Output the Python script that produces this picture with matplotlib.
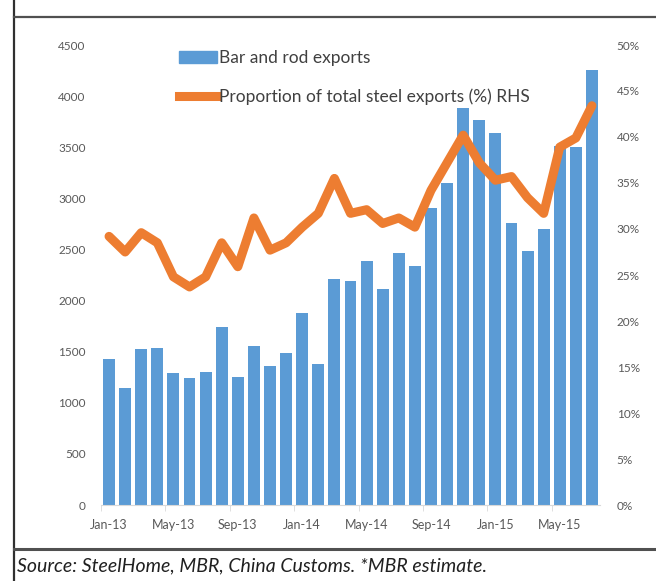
import matplotlib
matplotlib.use("Agg")
import matplotlib.pyplot as plt
from matplotlib import font_manager as fm
from matplotlib.lines import Line2D
from matplotlib.patches import Patch
import numpy as np

months = ["Jan-13", "Feb-13", "Mar-13", "Apr-13", "May-13", "Jun-13", "Jul-13", "Aug-13",
          "Sep-13", "Oct-13", "Nov-13", "Dec-13", "Jan-14", "Feb-14", "Mar-14", "Apr-14",
          "May-14", "Jun-14", "Jul-14", "Aug-14", "Sep-14", "Oct-14", "Nov-14", "Dec-14",
          "Jan-15", "Feb-15", "Mar-15", "Apr-15", "May-15", "Jun-15", "Jul-15"]
bar_rod_exports = [1425, 1140, 1530, 1540, 1290, 1240, 1300, 1745, 1250, 1560, 1360, 1485,
                   1880, 1375, 2210, 2195, 2390, 2115, 2465, 2340, 2905, 3150, 3880, 3770,
                   3635, 2760, 2480, 2700, 3515, 3500, 4260]
proportion_pct = [29.2, 27.5, 29.6, 28.5, 24.8, 23.7, 24.8, 28.5, 25.9, 31.2, 27.7, 28.5,
                  30.2, 31.7, 35.5, 31.7, 32.1, 30.6, 31.2, 30.2, 34.2, 37.2, 40.2, 37.2,
                  35.3, 35.7, 33.4, 31.7, 38.9, 39.9, 43.4]
left_ticks = [0, 500, 1000, 1500, 2000, 2500, 3000, 3500, 4000, 4500]
right_ticks = [0, 5, 10, 15, 20, 25, 30, 35, 40, 45, 50]
source_text = "Source: SteelHome, MBR, China Customs. *MBR estimate."

avail = {f.name for f in fm.fontManager.ttflist}
base_font = "Lato" if "Lato" in avail else "DejaVu Sans"
plt.rcParams["font.family"] = [base_font, "DejaVu Sans"]

W, H = 656, 581
fig = plt.figure(figsize=(W / 100, H / 100), dpi=100)
fig.patch.set_facecolor("white")

# plot area in pixels: x 101..600, y 45..505 (top-origin)
x0, x1, ytop, ybot = 101, 600, 45, 505
ax = fig.add_axes([x0 / W, 1 - ybot / H, (x1 - x0) / W, (ybot - ytop) / H])
ax2 = ax.twinx()

BLUE = "#5B9BD5"
ORANGE = "#ED7D31"
TXT = "#595959"

x = np.arange(len(months))
ax.bar(x, bar_rod_exports, width=0.74, color=BLUE, zorder=2)
ax.set_xlim(-0.5, len(months) - 0.5)
ax.set_ylim(0, 4500)
ax.set_yticks(left_ticks)
ax.set_yticklabels([str(v) for v in left_ticks])
ax2.plot(x, proportion_pct, color=ORANGE, lw=6.5, solid_joinstyle="round",
         solid_capstyle="round", zorder=3)
ax2.set_ylim(0, 50)
ax2.set_yticks(right_ticks)
ax2.set_yticklabels([f"{v}%" for v in right_ticks])

label_idx = list(range(0, len(months), 4))
ax.set_xticks(label_idx)
ax.set_xticklabels([months[i] for i in label_idx])
ax.set_xticks([i - 0.5 for i in label_idx], minor=True)

for a in (ax, ax2):
    for s in a.spines.values():
        s.set_visible(False)
ax.spines["bottom"].set_visible(True)
ax.spines["bottom"].set_color("#D9D9D9")
ax.tick_params(axis="y", length=0, labelsize=8.5, labelcolor=TXT, pad=11)
ax2.tick_params(axis="y", length=0, labelsize=8.5, labelcolor=TXT, pad=12)
ax.tick_params(axis="x", which="major", length=0, labelsize=9, labelcolor=TXT, pad=10)
ax.tick_params(axis="x", which="minor", length=4, color="#D9D9D9")

handles = [Patch(facecolor=BLUE, edgecolor=BLUE),
           Line2D([0], [0], color=ORANGE, lw=6.5)]
labels = ["Bar and rod exports", "Proportion of total steel exports (%) RHS"]
leg = ax.legend(handles, labels, loc="upper left",
                bbox_to_anchor=((172 - x0) / (x1 - x0), 1 + 2 / (ybot - ytop)),
                frameon=False, fontsize=12.5, handlelength=2.2, handletextpad=0.1,
                labelspacing=1.3, borderaxespad=0)
for t in leg.get_texts():
    t.set_color("#404040")

# frame lines
fig.add_artist(Line2D([14 / W, 14 / W], [0, 1], color="#303030", lw=1.6,
                      transform=fig.transFigure))
fig.add_artist(Line2D([14 / W, 1], [1 - 17 / H, 1 - 17 / H], color="#505050", lw=1.6,
                      transform=fig.transFigure))
fig.add_artist(Line2D([14 / W, 1], [1 - 549 / H, 1 - 549 / H], color="#505050", lw=2.2,
                      transform=fig.transFigure))

fig.text(17 / W, 1 - 566 / H, source_text, style="italic", fontsize=14,
         color="#202020", va="center", ha="left")

fig.savefig("out.png", dpi=100, facecolor="white")
